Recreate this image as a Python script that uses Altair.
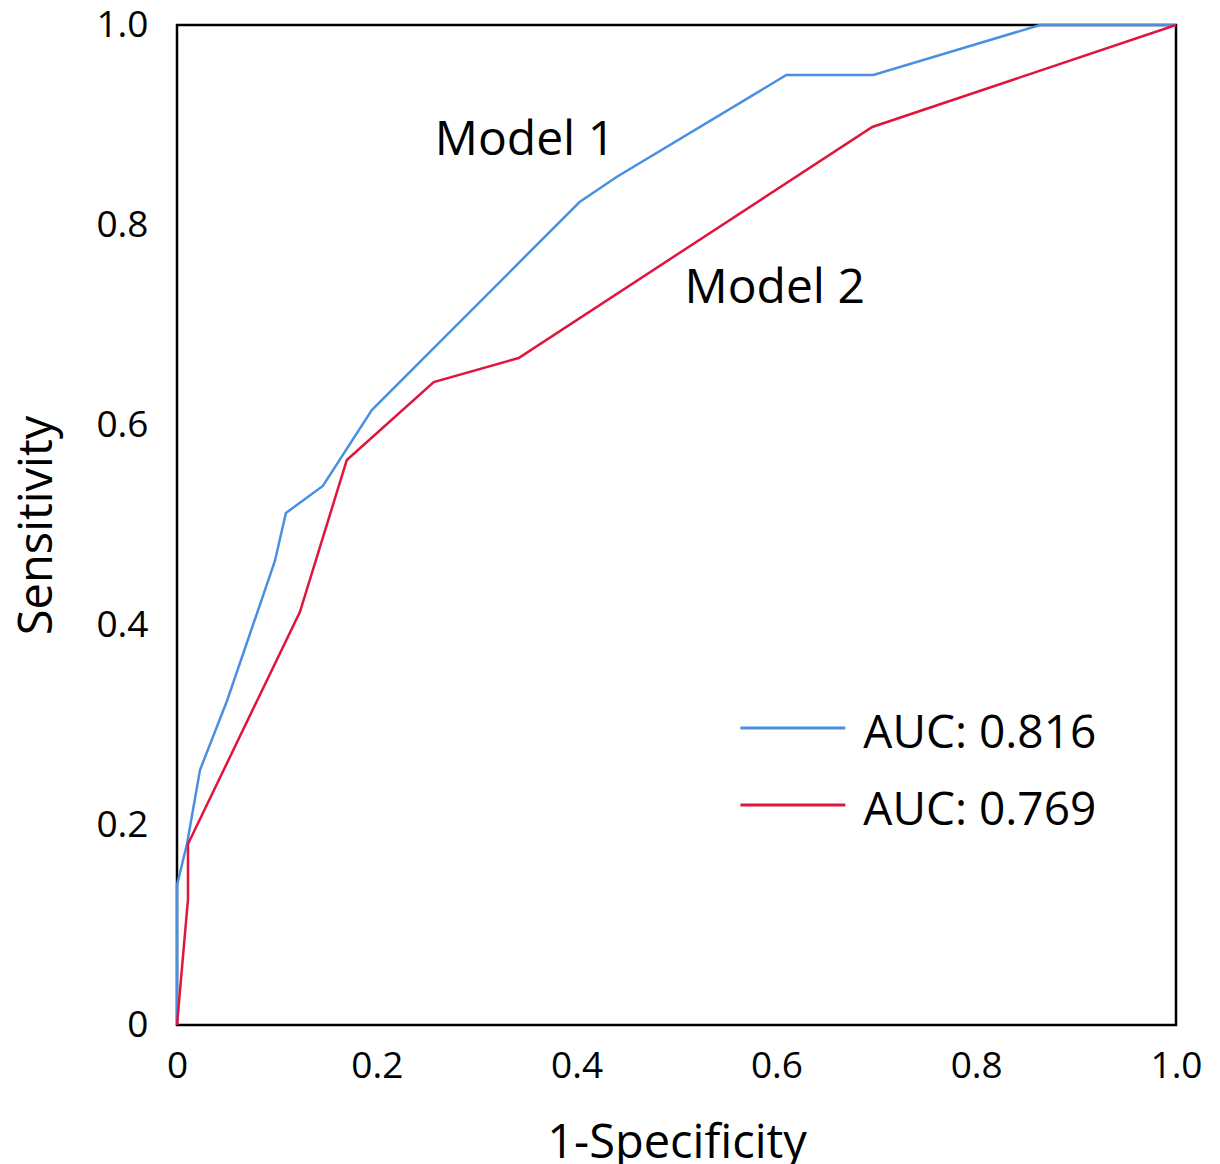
import altair as alt
import pandas as pd

# ROC curve points
fpr_m1 = [0.0, 0.0, 0.01, 0.023, 0.05, 0.098, 0.109, 0.146, 0.195, 0.403, 0.44, 0.61, 0.697, 0.864, 1.0]
tpr_m1 = [0.0, 0.14, 0.181, 0.255, 0.324, 0.464, 0.512, 0.539, 0.615, 0.823, 0.848, 0.95, 0.95, 1.0, 1.0]
fpr_m2 = [0.0, 0.011, 0.011, 0.123, 0.17, 0.257, 0.342, 0.696, 1.0]
tpr_m2 = [0.0, 0.126, 0.181, 0.413, 0.565, 0.643, 0.667, 0.898, 1.0]

models = ["Model 1", "Model 2"]
auc_labels = ["AUC: 0.816", "AUC: 0.769"]
tick_values = [0, 0.2, 0.4, 0.6, 0.8, 1.0]
colors = ["#4A90E2", "#E0143C"]

# annotation anchors (data coordinates)
name_x = [0.258, 0.508]
name_y = [0.87, 0.722]
legend_line_y = [0.297, 0.22]
legend_text_y = [0.277, 0.2]
legend_x0 = [0.564, 0.564]
legend_x1 = [0.669, 0.669]
legend_tx = [0.687, 0.687]

rows = []
for i, (x, y) in enumerate(zip(fpr_m1, tpr_m1)):
    rows.append({"model": models[0], "fpr": x, "tpr": y, "idx": i})
for i, (x, y) in enumerate(zip(fpr_m2, tpr_m2)):
    rows.append({"model": models[1], "fpr": x, "tpr": y, "idx": i})
df = pd.DataFrame(rows)

names_df = pd.DataFrame({"model": models, "x": name_x, "y": name_y})
legend_df = pd.DataFrame({"model": models, "label": auc_labels, "x0": legend_x0,
                          "x1": legend_x1, "tx": legend_tx,
                          "ly": legend_line_y, "ty": legend_text_y})

x_scale = alt.Scale(domain=[0, 1], nice=False)
y_scale = alt.Scale(domain=[0, 1], nice=False)
color_scale = alt.Scale(domain=models, range=colors)
label_expr = "datum.value == 0 ? '0' : format(datum.value, '.1f')"

x_axis = alt.Axis(title="1-Specificity", values=tick_values, labelExpr=label_expr,
                  ticks=False, domain=False, grid=False, labelPadding=23,
                  labelFont="Open Sans", labelFontSize=37, labelColor="black",
                  labelFlush=False, labelOverlap=False,
                  titleFont="Open Sans", titleFontSize=47, titleFontWeight="normal",
                  titleColor="black", titleBaseline="alphabetic", titleY=132)
y_axis = alt.Axis(title="Sensitivity", values=tick_values, labelExpr=label_expr,
                  ticks=False, domain=False, grid=False, labelPadding=29,
                  labelFont="Open Sans", labelFontSize=37, labelColor="black",
                  labelFlush=False, labelOverlap=False,
                  titleFont="Open Sans", titleFontSize=47, titleFontWeight="normal",
                  titleColor="black", titleX=-140, titleY=500, titleAngle=270,
                  titleBaseline="middle", titleAlign="center")

lines = alt.Chart(df).mark_line(strokeWidth=2.5).encode(
    x=alt.X("fpr:Q", scale=x_scale, axis=x_axis),
    y=alt.Y("tpr:Q", scale=y_scale, axis=y_axis),
    color=alt.Color("model:N", scale=color_scale, legend=None),
    order="idx:Q",
)

names = alt.Chart(names_df).mark_text(font="Open Sans", fontSize=48, align="left",
                                      baseline="alphabetic", color="black").encode(
    x=alt.X("x:Q", scale=x_scale), y=alt.Y("y:Q", scale=y_scale), text="model:N")

leg_lines = alt.Chart(legend_df).mark_rule(strokeWidth=3).encode(
    x=alt.X("x0:Q", scale=x_scale), x2="x1:Q", y=alt.Y("ly:Q", scale=y_scale),
    color=alt.Color("model:N", scale=color_scale, legend=None))

leg_text = alt.Chart(legend_df).mark_text(font="Open Sans", fontSize=46, align="left",
                                          baseline="alphabetic", color="black").encode(
    x=alt.X("tx:Q", scale=x_scale), y=alt.Y("ty:Q", scale=y_scale), text="label:N")

chart = alt.layer(lines, names, leg_lines, leg_text).properties(
    width=999, height=1000,
    autosize=alt.AutoSizeParams(type="none"),
    padding={"left": 169, "top": 17, "right": 35, "bottom": 139},
    background="white",
).configure_view(stroke="black", strokeWidth=2.5)

chart.save("out.html", embed_options={"renderer": "svg", "actions": False})
